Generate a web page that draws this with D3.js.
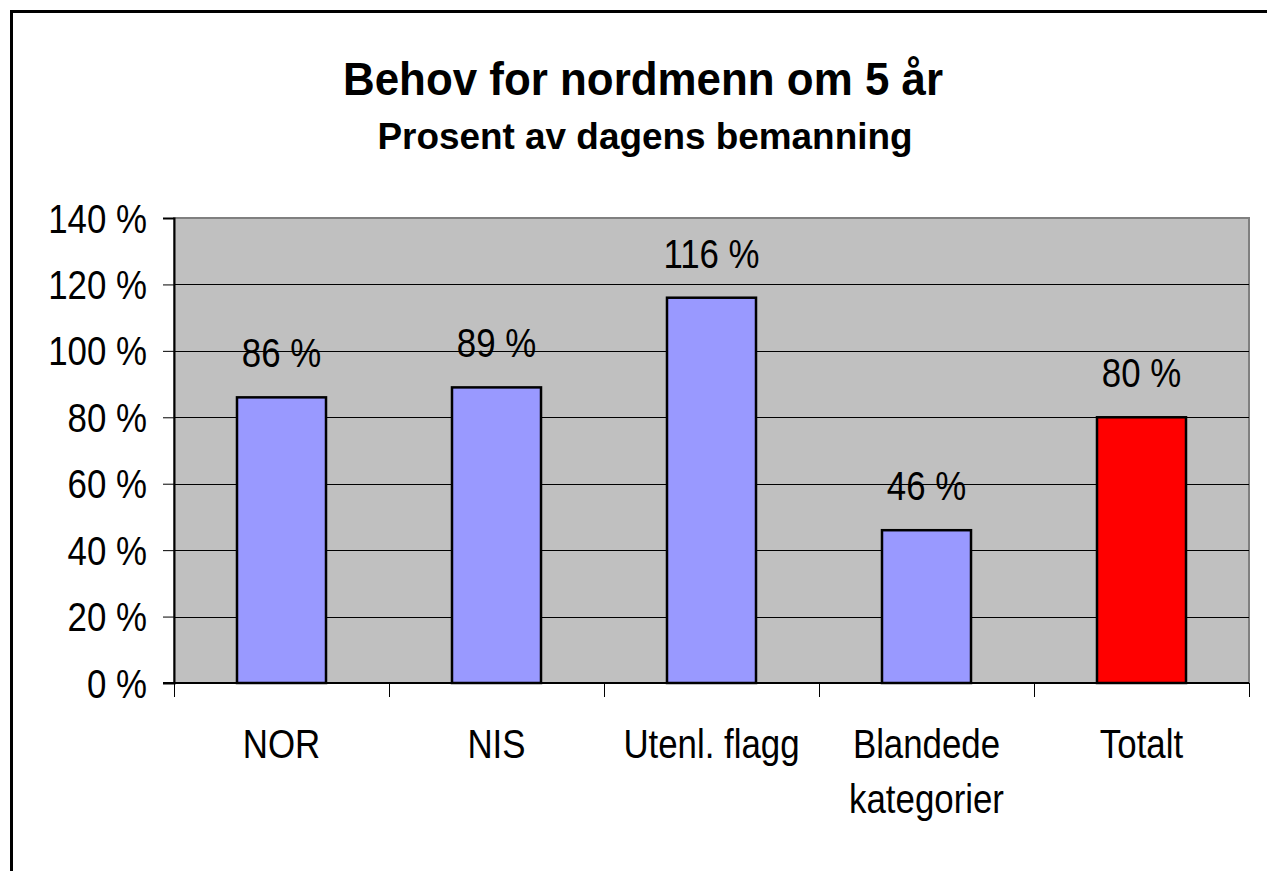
<!DOCTYPE html>
<html lang="no">
<head>
<meta charset="UTF-8">
<title>Behov for nordmenn om 5 år</title>
<script src="https://d3js.org/d3.v7.min.js"></script>
<style>
  body { margin: 0; background: #fff; font-family: "Liberation Sans", Arial, sans-serif; }
  svg text { font-family: "Liberation Sans", Arial, sans-serif; fill: #000; }
</style>
</head>
<body>
<script>
// data
const categories = ["NOR", "NIS", "Utenl. flagg", "Blandede\nkategorier", "Totalt"];
const values = [86, 89, 116, 46, 80];
const barColors = ["#9999ff", "#9999ff", "#9999ff", "#9999ff", "#ff0000"];
const yTicks = [0, 20, 40, 60, 80, 100, 120, 140];

const W = 1267, H = 871;
const plot = { left: 174, right: 1249, top: 218, bottom: 683 };
const sx = 0.85; // text looks horizontally squeezed in the original

const svg = d3.select("body").append("svg")
    .attr("width", W).attr("height", H);

// outer frame (right and bottom edges run off the picture)
svg.append("rect")
    .attr("x", 11.5).attr("y", 11.5)
    .attr("width", W + 20).attr("height", H + 20)
    .attr("fill", "#fff").attr("stroke", "#000").attr("stroke-width", 3);

const x = d3.scaleBand()
    .domain(categories)
    .range([plot.left, plot.right])
    .paddingInner(0.586).paddingOuter(0.293);

const y = d3.scaleLinear()
    .domain([0, 140])
    .range([plot.bottom, plot.top]);

// titles
svg.append("text")
    .attr("x", 643).attr("y", 95)
    .attr("text-anchor", "middle")
    .style("font-size", "47px").style("font-weight", "bold")
    .attr("textLength", 600).attr("lengthAdjust", "spacingAndGlyphs")
    .text("Behov for nordmenn om 5 år");

svg.append("text")
    .attr("x", 645).attr("y", 149)
    .attr("text-anchor", "middle")
    .style("font-size", "37px").style("font-weight", "bold")
    .attr("textLength", 535).attr("lengthAdjust", "spacingAndGlyphs")
    .text("Prosent av dagens bemanning");

// plot area
svg.append("rect")
    .attr("x", plot.left).attr("y", plot.top)
    .attr("width", plot.right - plot.left).attr("height", plot.bottom - plot.top)
    .attr("fill", "#c0c0c0").attr("stroke", "#808080").attr("stroke-width", 2);

// gridlines
svg.append("g")
    .selectAll("line")
    .data(yTicks.filter(d => d > 0 && d < 140))
    .join("line")
    .attr("x1", plot.left).attr("x2", plot.right)
    .attr("y1", d => Math.round(y(d)) + 0.5).attr("y2", d => Math.round(y(d)) + 0.5)
    .attr("stroke", "#000").attr("stroke-width", 1);

// y axis
const yAxis = svg.append("g")
    .attr("transform", `translate(${plot.left},0)`)
    .call(d3.axisLeft(y).tickValues(yTicks).tickSize(11).tickFormat(d => d + " %"));
yAxis.select(".domain").attr("stroke", "#000").attr("stroke-width", 2);
yAxis.selectAll(".tick line").attr("stroke", "#000");
yAxis.selectAll(".tick text").remove();
yAxis.selectAll(".tick").append("text")
    .attr("text-anchor", "end")
    .attr("transform", `translate(-27,14) scale(${sx},1)`)
    .style("font-size", "41px")
    .text(d => d + " %");

// x axis
const bounds = categories.map(c => x(c) - x.step() * x.paddingInner() / 2).concat([plot.right]);
svg.append("line")
    .attr("x1", plot.left - 11).attr("x2", plot.right)
    .attr("y1", plot.bottom).attr("y2", plot.bottom)
    .attr("stroke", "#000").attr("stroke-width", 2);
svg.append("g")
    .selectAll("line")
    .data(bounds)
    .join("line")
    .attr("x1", d => Math.round(d) + 0.5).attr("x2", d => Math.round(d) + 0.5)
    .attr("y1", plot.bottom).attr("y2", plot.bottom + 14)
    .attr("stroke", "#000");

svg.append("g")
    .selectAll("text")
    .data(categories)
    .join("text")
    .attr("text-anchor", "middle")
    .attr("transform", d => `translate(${x(d) + x.bandwidth() / 2},758) scale(${sx},1)`)
    .style("font-size", "41px")
    .each(function(d) {
        d.split("\n").forEach((line, i) => {
            d3.select(this).append("tspan")
                .attr("x", 0).attr("y", i * 55)
                .text(line);
        });
    });

// bars
svg.append("g")
    .selectAll("rect")
    .data(values)
    .join("rect")
    .attr("x", (d, i) => x(categories[i]))
    .attr("y", d => y(d))
    .attr("width", x.bandwidth())
    .attr("height", d => y(0) - y(d))
    .attr("fill", (d, i) => barColors[i])
    .attr("stroke", "#000").attr("stroke-width", 2.5);

// value labels
svg.append("g")
    .selectAll("text")
    .data(values)
    .join("text")
    .attr("text-anchor", "middle")
    .attr("transform", (d, i) => `translate(${x(categories[i]) + x.bandwidth() / 2},${y(d) - 30}) scale(${sx},1)`)
    .style("font-size", "41px")
    .text(d => d + " %");
</script>
</body>
</html>
